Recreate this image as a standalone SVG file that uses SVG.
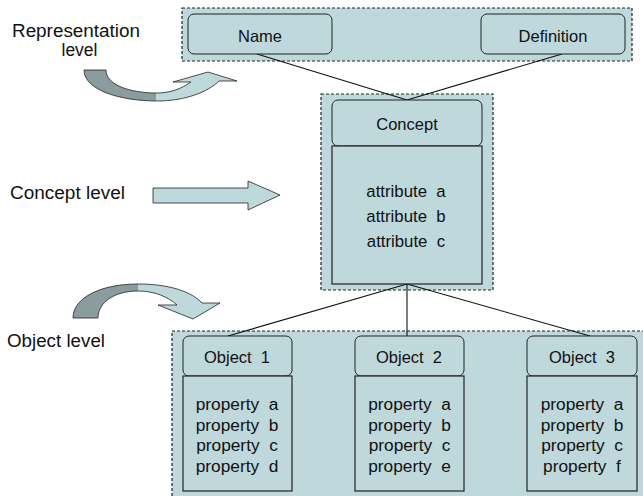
<svg xmlns="http://www.w3.org/2000/svg" width="643" height="496" viewBox="0 0 643 496" font-family="'Liberation Sans', Arimo, Arial, Helvetica, sans-serif">
<style>
.cont{fill:#bed8db;stroke:#222;stroke-width:1.2;stroke-dasharray:3,2}
.hdr{fill:#bed8db;stroke:#222;stroke-width:1}
.body{fill:#bed8db;stroke:#222;stroke-width:1.2}
text{font-family:'Liberation Sans', Arimo, Arial, Helvetica, sans-serif}
.lbl{font-size:16.5px;fill:#111;text-anchor:middle;white-space:pre}
.att{font-size:16.8px}
.prop{font-size:17.3px}
.side{font-size:17.5px;fill:#111;white-space:pre}
.conn{stroke:#111;stroke-width:1.1;fill:none}
.arr{stroke:#222;stroke-width:0.8}
</style>
<defs>
<linearGradient id="g1" gradientUnits="userSpaceOnUse" x1="84" y1="0" x2="237" y2="0">
<stop offset="0" stop-color="#8a9c9d"/><stop offset="0.47" stop-color="#8a9c9d"/><stop offset="0.47" stop-color="#bed8db"/><stop offset="1" stop-color="#bed8db"/>
</linearGradient>
<linearGradient id="g2" gradientUnits="userSpaceOnUse" x1="73" y1="0" x2="220" y2="0">
<stop offset="0" stop-color="#8a9c9d"/><stop offset="0.44" stop-color="#8a9c9d"/><stop offset="0.44" stop-color="#bed8db"/><stop offset="1" stop-color="#bed8db"/>
</linearGradient>
</defs>

<g id="side-labels">
<text class="side" x="12" y="37" textLength="128" lengthAdjust="spacingAndGlyphs">Representation</text>
<text class="side" x="79.5" y="56" text-anchor="middle">level</text>
<text class="side" x="10" y="199" textLength="115" lengthAdjust="spacingAndGlyphs">Concept level</text>
<text class="side" x="7" y="347" textLength="98" lengthAdjust="spacingAndGlyphs">Object level</text>
</g>

<g id="level-arrows">
<path class="arr" fill="url(#g1)" d="M84,70 C84,90 120,101 157,101 C185,101 208,92 219,81 L237,81 L208,72 L173,82 L191,82 C181,89 170,93 157,93 C130,93 106,85 106,70 Z"/>
<path class="arr" fill="#bed8db" d="M153,188 L248,188 L248,181 L280,195 L248,210 L248,203 L153,203 Z"/>
<path class="arr" fill="url(#g2)" d="M73,318 C73,298 100,284 138,284 C170,284 192,292 202,303 L220,303 L193,319 L158,305 L177,305 C168,297 155,291 138,291 C115,291 98,302 98,318 Z"/>
</g>

<g id="containers">
<rect class="cont" x="182" y="8" width="450" height="53"/>
<rect class="cont" x="321" y="94" width="172" height="196"/>
<rect class="cont" x="172" y="331" width="480" height="175"/>
</g>

<g id="connectors">
<line class="conn" x1="257" y1="54" x2="407" y2="100"/>
<line class="conn" x1="562" y1="54" x2="407" y2="100"/>
<line class="conn" x1="407" y1="284" x2="228" y2="336"/>
<line class="conn" x1="407" y1="284" x2="407" y2="336" stroke="#555"/>
<line class="conn" x1="407" y1="284" x2="590" y2="336"/>
</g>

<g id="name">
<rect class="hdr" x="188" y="14" width="144" height="40" rx="6"/>
<text class="lbl" x="260" y="42">Name</text>
</g>
<g id="definition">
<rect class="hdr" x="481" y="14" width="144" height="40" rx="6"/>
<text class="lbl" x="553" y="42">Definition</text>
</g>

<g id="concept">
<rect class="hdr" x="332" y="100" width="150" height="46" rx="6"/>
<text class="lbl" x="407" y="130">Concept</text>
<rect class="body" x="332" y="146" width="150" height="138"/>
<text class="lbl att" x="406" y="197">attribute  a</text>
<text class="lbl att" x="406" y="222">attribute  b</text>
<text class="lbl att" x="406" y="247">attribute  c</text>
</g>

<g id="object1">
<rect class="hdr" x="183" y="336" width="109" height="40" rx="6"/>
<text class="lbl" x="237" y="363">Object  1</text>
<rect class="body" x="183" y="376" width="109" height="115"/>
<text class="lbl prop" x="237" y="410">property  a</text>
<text class="lbl prop" x="237" y="430.5">property  b</text>
<text class="lbl prop" x="237" y="451">property  c</text>
<text class="lbl prop" x="237" y="471.5">property  d</text>
</g>

<g id="object2">
<rect class="hdr" x="355" y="336" width="109" height="40" rx="6"/>
<text class="lbl" x="409" y="363">Object  2</text>
<rect class="body" x="355" y="376" width="109" height="115"/>
<text class="lbl prop" x="409.5" y="410">property  a</text>
<text class="lbl prop" x="409.5" y="430.5">property  b</text>
<text class="lbl prop" x="409.5" y="451">property  c</text>
<text class="lbl prop" x="409.5" y="471.5">property  e</text>
</g>

<g id="object3">
<rect class="hdr" x="527" y="336" width="110" height="40" rx="6"/>
<text class="lbl" x="582" y="363">Object  3</text>
<rect class="body" x="527" y="376" width="110" height="115"/>
<text class="lbl prop" x="582" y="410">property  a</text>
<text class="lbl prop" x="582" y="430.5">property  b</text>
<text class="lbl prop" x="582" y="451">property  c</text>
<text class="lbl prop" x="582" y="471.5">property  f</text>
</g>
</svg>
